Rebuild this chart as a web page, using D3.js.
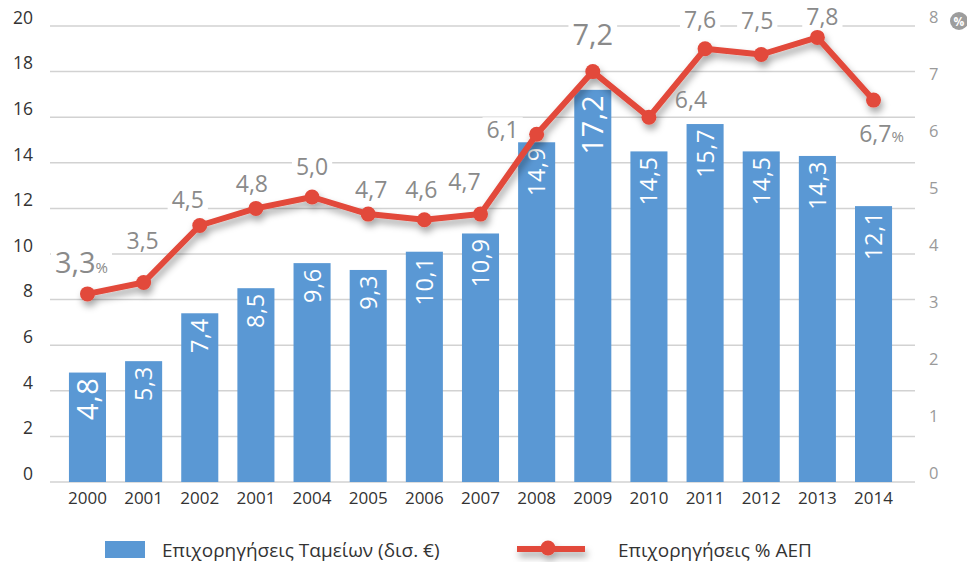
<!DOCTYPE html>
<html>
<head>
<meta charset="utf-8">
<script src="https://cdn.jsdelivr.net/npm/d3@7"></script>
<style>
  html, body { margin: 0; padding: 0; background: #fff; }
  svg { display: block; font-family: "Open Sans", Lato, sans-serif; }
</style>
</head>
<body>
<svg id="chart" width="967" height="564"></svg>
<script>
// Years on the category axis (the fourth label repeats "2001" as printed)
const years = ["2000","2001","2002","2001","2004","2005","2006","2007","2008","2009","2010","2011","2012","2013","2014"];
// Fund subsidies, billion €
const subsidies = [4.8, 5.3, 7.4, 8.5, 9.6, 9.3, 10.1, 10.9, 14.9, 17.2, 14.5, 15.7, 14.5, 14.3, 12.1];
// Subsidies as % of GDP
const gdpShare = [3.3, 3.5, 4.5, 4.8, 5.0, 4.7, 4.6, 4.7, 6.1, 7.2, 6.4, 7.6, 7.5, 7.8, 6.7];
const leftTicks = [0, 2, 4, 6, 8, 10, 12, 14, 16, 18, 20];
const rightTicks = [0, 1, 2, 3, 4, 5, 6, 7, 8];
const legendLabels = ["Επιχορηγήσεις Ταμείων (δισ. €)", "Επιχορηγήσεις % ΑΕΠ"];

// Emphasised entries (first year and the peak year) get larger value labels
const emphasised = new Set([0, 9]);
// Percent sign is appended on the first and last line labels
const withPercent = new Set([0, 14]);
// Hand placement of the line value labels relative to each point: [dx, dy of baseline]
const lineLabelOffset = [
  [-6, -21], [-1, -34], [-12, -18], [-4, -16], [0, -22], [3, -16], [-3, -22], [-16, -24],
  [-34, 4], [0, -27], [42, -9], [-5, -21], [-4, -26], [5, -12], [8, 42]
];

const BLUE = "#5a98d4", RED = "#e2493b", GRID = "#d2d2d2";

const svg = d3.select("#chart");
const x = d3.scaleBand().domain(d3.range(years.length)).range([59.4, 901.6])
  .paddingInner(0.34).paddingOuter(0.17);
const yL = d3.scaleLinear().domain([0, 20]).range([482, 26]);
const yR = d3.scaleLinear().domain([0, 8]).range([482, 26]);
const cx = i => x(i) + x.bandwidth() / 2;

// drop shadow for the line
const defs = svg.append("defs");
const f = defs.append("filter").attr("id", "shadow").attr("x", "-20%").attr("y", "-20%")
  .attr("width", "140%").attr("height", "160%");
f.append("feDropShadow").attr("dx", 2).attr("dy", 5).attr("stdDeviation", 3.5)
  .attr("flood-color", "#000").attr("flood-opacity", 0.35);

// gridlines
svg.append("g").selectAll("line").data(leftTicks).join("line")
  .attr("x1", 50).attr("x2", 915)
  .attr("y1", d => yL(d)).attr("y2", d => yL(d))
  .attr("stroke", GRID).attr("stroke-width", 1.5);

// left axis
const leftAxis = svg.append("g").attr("transform", "translate(33,0)")
  .call(d3.axisLeft(yL).tickValues(leftTicks).tickSize(0).tickPadding(0).tickFormat(d3.format("d")));
leftAxis.select(".domain").remove();
leftAxis.selectAll("text").attr("font-size", 17.5).attr("fill", "#333").attr("font-family", "'Open Sans', sans-serif")
  .attr("dy", "-0.15em");

// right axis
const rightAxis = svg.append("g").attr("transform", "translate(929,0)")
  .call(d3.axisRight(yR).tickValues(rightTicks).tickSize(0).tickPadding(0).tickFormat(d3.format("d")));
rightAxis.select(".domain").remove();
rightAxis.selectAll("text").attr("font-size", 16.5).attr("fill", "#9a9a9a").attr("font-family", "'Open Sans', sans-serif")
  .attr("dy", "-0.2em");

// percent badge next to the top right tick
svg.append("circle").attr("cx", 959).attr("cy", 21).attr("r", 9).attr("fill", "#9d9d9d");
svg.append("text").attr("x", 959).attr("y", 25.5).attr("text-anchor", "middle")
  .attr("font-size", 12).attr("font-weight", 700).attr("fill", "#fff").text("%");

// bottom axis labels
const bottomAxis = svg.append("g").attr("transform", "translate(0,490)")
  .call(d3.axisBottom(x).tickSize(0).tickPadding(0).tickFormat(i => years[i]));
bottomAxis.select(".domain").remove();
bottomAxis.selectAll("text").attr("font-size", 17).attr("fill", "#333").attr("font-family", "'Open Sans', sans-serif")
  .attr("dy", "0.8em");

// white knock-outs behind line labels (break the gridlines only)
const bgLayer = svg.append("g");

// bars
svg.append("g").selectAll("rect").data(subsidies).join("rect")
  .attr("x", (d, i) => x(i)).attr("width", x.bandwidth())
  .attr("y", d => yL(d)).attr("height", d => yL(0) - yL(d))
  .attr("fill", BLUE);

// bar value labels, rotated
const fmt = v => d3.format(".1f")(v).replace(".", ",");
svg.append("g").selectAll("text").data(subsidies).join("text")
  .attr("transform", (d, i) => `translate(${cx(i) + (emphasised.has(i) ? 10.5 : 8.5)},${yL(d) + 5}) rotate(-90)`)
  .attr("text-anchor", "end")
  .attr("font-size", (d, i) => emphasised.has(i) ? 29 : 23.5)
  .attr("letter-spacing", 0.6)
  .attr("fill", "#fff")
  .text(d => fmt(d));

// line
const line = d3.line().x((d, i) => cx(i)).y(d => yR(d));
const lineG = svg.append("g").attr("filter", "url(#shadow)");
lineG.append("path").datum(gdpShare).attr("d", line)
  .attr("fill", "none").attr("stroke", RED).attr("stroke-width", 6).attr("stroke-linejoin", "round");
lineG.selectAll("circle").data(gdpShare).join("circle")
  .attr("cx", (d, i) => cx(i)).attr("cy", d => yR(d)).attr("r", 7.5).attr("fill", RED);

// line value labels
const labels = svg.append("g").selectAll("text").data(gdpShare).join("text")
  .attr("x", (d, i) => cx(i) + lineLabelOffset[i][0])
  .attr("y", (d, i) => yR(d) + lineLabelOffset[i][1])
  .attr("text-anchor", "middle")
  .attr("font-size", (d, i) => emphasised.has(i) ? 29 : 23)
  .attr("fill", "#8a8a8a");
labels.append("tspan").text(d => fmt(d));
labels.filter((d, i) => withPercent.has(i)).append("tspan")
  .attr("font-size", 15).text("%");
labels.each(function () {
  const b = this.getBBox();
  bgLayer.append("rect").attr("x", b.x - 4).attr("y", b.y + 4)
    .attr("width", b.width + 8).attr("height", b.height - 8).attr("fill", "#fff");
});

// legend
const lg = svg.append("g");
lg.append("rect").attr("x", 105).attr("y", 541).attr("width", 40).attr("height", 17).attr("fill", BLUE);
lg.append("text").attr("x", 162).attr("y", 557).attr("font-size", 19).attr("fill", "#333").text(legendLabels[0]);
const lgLine = lg.append("g").attr("filter", "url(#shadow)");
lgLine.append("line").attr("x1", 517).attr("x2", 585).attr("y1", 549).attr("y2", 549)
  .attr("stroke", RED).attr("stroke-width", 6);
lgLine.append("circle").attr("cx", 548).attr("cy", 548).attr("r", 7.5).attr("fill", RED);
lg.append("text").attr("x", 618).attr("y", 557).attr("font-size", 19).attr("fill", "#333").text(legendLabels[1]);
</script>
</body>
</html>
